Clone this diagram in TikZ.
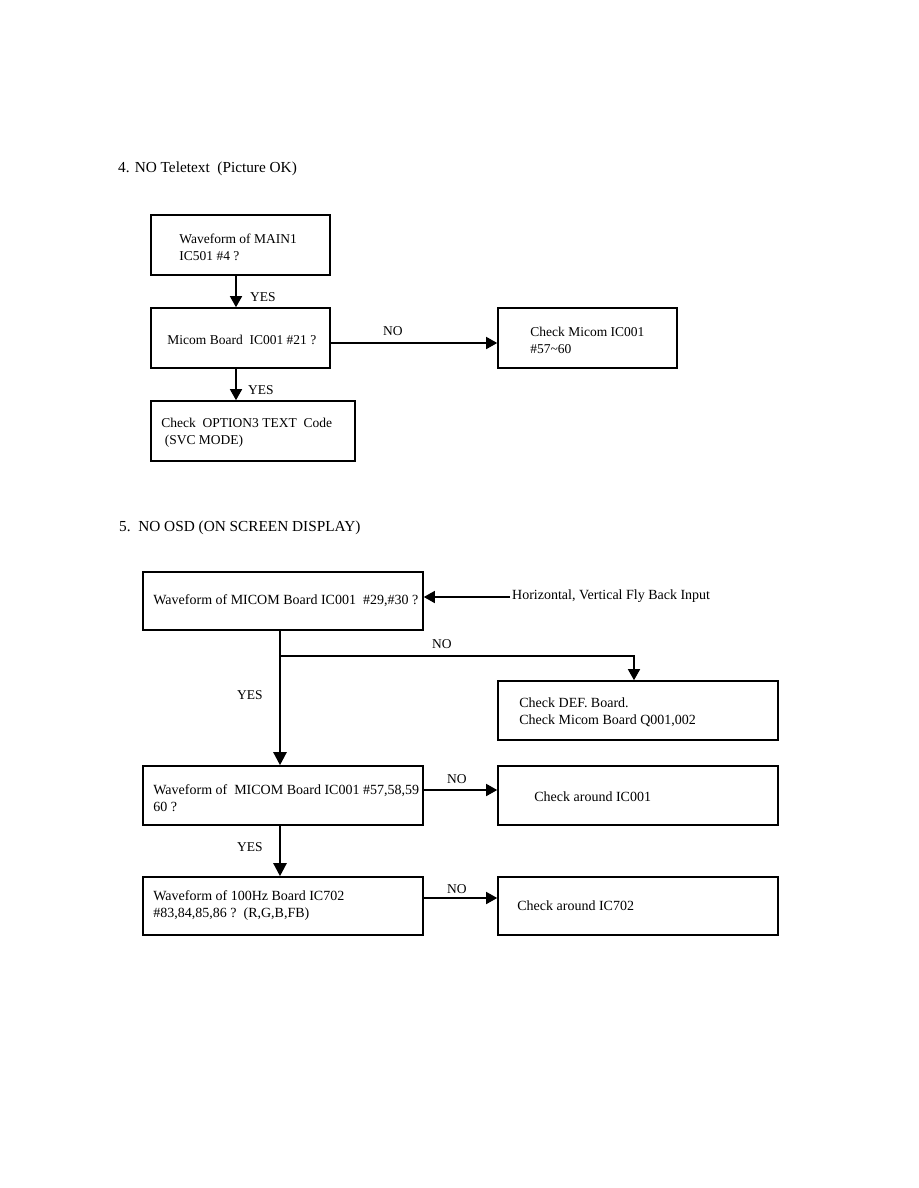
\documentclass[tikz,border=0pt]{standalone}
\usepackage{fontspec}
\setmainfont{Liberation Serif}
\usetikzlibrary{arrows.meta}
\begin{document}
\begin{tikzpicture}[x=1pt,y=-1pt,
  box/.style n args={2}{draw, line width=1.6pt, minimum width=#1, minimum height=#2, inner sep=0pt},
  txt/.style={anchor=west, align=left, inner sep=0pt, font=\fontsize{13.5}{17}\selectfont},
  txtb/.style={txt, font=\fontsize{14}{17}\selectfont},
  lbl/.style={inner sep=0pt, anchor=base west, font=\fontsize{13.5}{17}\selectfont},
  ttl/.style={inner sep=0pt, anchor=base west, font=\fontsize{15.3}{18}\selectfont},
  arr/.style={line width=1.5pt, -{Triangle[length=11pt,width=12pt]}},
  main/.style={line width=2.4pt, -{Triangle[length=13pt,width=13pt]}}
]
\fill[white] (0,0) rectangle (918,1188);
\useasboundingbox (0,0) rectangle (918,1188);

% ---------- Section 4 ----------
\node[ttl] (t4) at (118,172) {4. NO Teletext\ \ (Picture OK)};

\node[box={179pt}{60pt}] (A) at (240.5,245) {};
\node[txt] (At) at ([xshift=29pt,yshift=-2pt]A.west) {Waveform of MAIN1\\IC501 \#4 ?};
\node[box={179pt}{60pt}] (B) at (240.5,338) {};
\node[txt] (Bt) at ([xshift=17pt,yshift=-2pt]B.west) {Micom Board\ \ IC001 \#21 ?};
\node[box={179pt}{60pt}] (C) at (587.5,338) {};
\node[txt] (Ct) at ([xshift=33pt,yshift=-2pt]C.west) {Check Micom IC001\\\#57\textasciitilde60};
\node[box={204pt}{60pt}] (D) at (253,431) {};
\node[txt] (Dt) at ([xshift=11pt,yshift=-2pt]D.west) {Check\ \ OPTION3 TEXT\ \ Code\\\ (SVC MODE)};

\draw[arr] ([xshift=-4.5pt]A.south) -- ([xshift=-4.5pt]B.north);
\node[lbl] (y1) at (250,301) {YES};
\draw[arr] ([yshift=-5pt]B.east) -- ([yshift=-5pt]B.east -| C.west);
\node[lbl] (n1) at (383,335) {NO};
\draw[arr] ([xshift=-4.5pt]B.south) -- ([xshift=-4.5pt]B.south |- D.north);
\node[lbl] (y2) at (248,394) {YES};

% ---------- Section 5 ----------
\node[ttl] (t5) at (119,531) {5.\ \ NO OSD (ON SCREEN DISPLAY)};

\node[box={280pt}{58pt}] (E) at (283,601) {};
\node[txtb] (Et) at ([xshift=11pt]E.west) {Waveform of MICOM Board IC001\ \ \#29,\#30 ?};
\node[box={280pt}{59pt}] (G) at (638,710.5) {};
\node[txtb] (Gt) at ([xshift=22pt,yshift=-2pt]G.west) {Check DEF. Board.\\Check Micom Board Q001,002};
\node[box={280pt}{59pt}] (F) at (283,795.5) {};
\node[txtb] (Ft) at ([xshift=11pt,yshift=-3pt]F.west) {Waveform of\ \ MICOM Board IC001 \#57,58,59\\60 ?};
\node[box={280pt}{59pt}] (H) at (638,795.5) {};
\node[txtb] (Ht) at ([xshift=37pt,yshift=-1pt]H.west) {Check around IC001};
\node[box={280pt}{58pt}] (I) at (283,906) {};
\node[txtb] (It) at ([xshift=11pt]I.west) {Waveform of 100Hz Board IC702\\\#83,84,85,86 ?\ \ (R,G,B,FB)};
\node[box={280pt}{58pt}] (J) at (638,906) {};
\node[txtb] (Jt) at ([xshift=20pt]J.west) {Check around IC702};

\node[lbl, font=\fontsize{14}{17}\selectfont] (fbl) at (512,599) {Horizontal, Vertical Fly Back Input};
\coordinate (fbs) at (510,597);
\draw[arr] (fbs) -- (fbs -| E.east);

\coordinate (br) at (280,656);
\draw[main] ([xshift=-3pt]E.south) -- ([xshift=-3pt]F.north);
\draw[arr] (br) -| ([xshift=-4pt]G.north);
\node[lbl] (n2) at (432,648) {NO};
\node[lbl] (y3) at (237,699) {YES};

\draw[arr] ([yshift=5.5pt]F.east) -- ([yshift=5.5pt]F.east -| H.west);
\node[lbl] (n3) at (447,783) {NO};
\draw[main] ([xshift=-3pt]F.south) -- ([xshift=-3pt]I.north);
\node[lbl] (y4) at (237,851) {YES};

\draw[arr] ([yshift=8pt]I.east) -- ([yshift=8pt]I.east -| J.west);
\node[lbl] (n4) at (447,893) {NO};
\end{tikzpicture}
\end{document}
